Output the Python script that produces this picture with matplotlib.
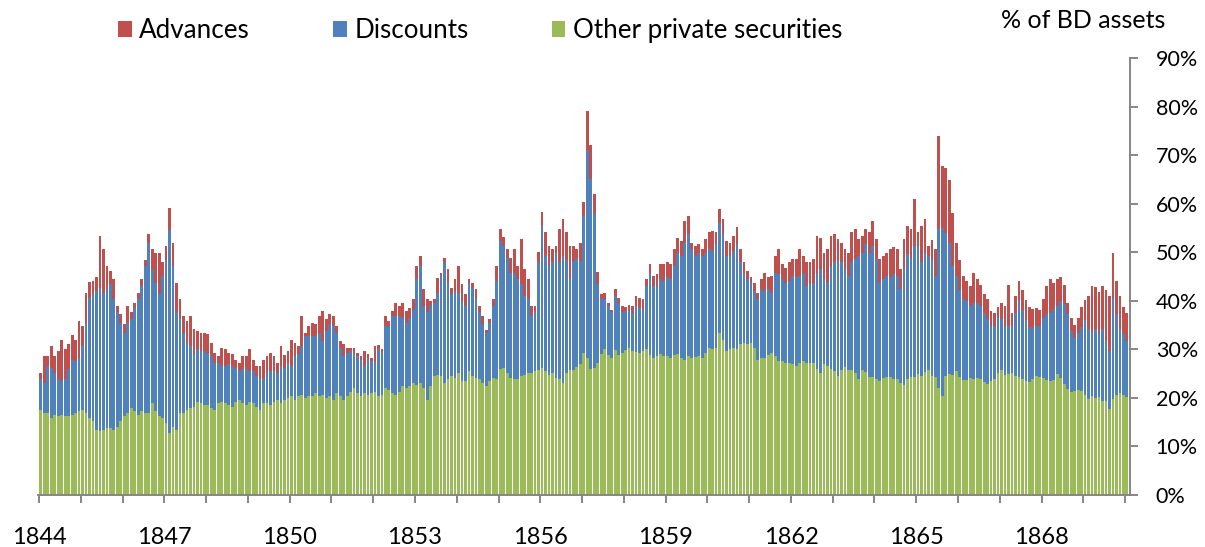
import matplotlib
matplotlib.use("Agg")
import matplotlib.pyplot as plt
import numpy as np
from matplotlib.patches import Patch

plt.rcParams['font.family'] = ['Lato', 'DejaVu Sans']

# ---------------- data (monthly, % of BD assets) ----------------
first_year = 1844
last_year = 1870
label_years = [1844, 1847, 1850, 1853, 1856, 1859, 1862, 1865, 1868]
y_ticks = [0, 10, 20, 30, 40, 50, 60, 70, 80, 90]
series_names = ['Advances', 'Discounts', 'Other private securities']

other_securities = [
    17.5, 16.9, 16.9, 15.9, 16.5, 16.2, 16.5, 16.2, 16.3, 16.5, 16.9, 17.2,  # 1844
    17.5, 16.9, 15.9, 15.2, 13.4, 13.1, 13.4, 13.8, 13.8, 13.4, 14.1, 15.2,  # 1845
    16.2, 16.9, 17.9, 17.2, 16.5, 17.2, 16.9, 16.9, 18.9, 17.2, 16.2, 15.9,  # 1846
    14.8, 12.7, 14.1, 13.4, 16.9, 16.9, 17.5, 17.9, 18.2, 19.2, 18.9, 18.5,  # 1847
    18.5, 17.9, 17.5, 18.9, 19.2, 18.9, 18.5, 18.2, 19.2, 19.6, 18.9, 18.5,  # 1848
    19.2, 18.9, 18.2, 17.5, 18.9, 18.9, 18.5, 19.2, 19.6, 18.9, 19.6, 19.9,  # 1849
    20.3, 19.6, 20.3, 20.6, 19.9, 20.3, 20.3, 21.0, 20.3, 20.6, 19.9, 20.3,  # 1850
    19.6, 21.0, 20.3, 19.6, 20.3, 21.3, 22.0, 21.1, 20.3, 21.0, 20.6, 21.0,  # 1851
    21.3, 20.3, 20.6, 22.0, 21.7, 21.0, 20.6, 21.3, 22.4, 22.0, 22.5, 23.1,  # 1852
    22.7, 23.1, 22.0, 19.6, 22.4, 24.5, 24.8, 24.5, 23.1, 23.8, 24.5, 24.1,  # 1853
    25.2, 23.4, 23.4, 25.5, 24.5, 24.1, 23.8, 23.1, 22.4, 23.4, 24.1, 23.8,  # 1854
    25.9, 26.2, 25.2, 24.1, 23.8, 23.8, 24.6, 24.8, 25.2, 25.2, 25.5, 25.8,  # 1855
    26.2, 25.5, 24.8, 25.2, 24.1, 23.8, 23.1, 25.2, 25.8, 25.8, 26.3, 26.9,  # 1856
    29.3, 28.3, 25.9, 26.2, 27.2, 29.0, 30.0, 28.9, 28.2, 29.9, 28.9, 29.3,  # 1857
    29.9, 30.3, 29.6, 29.4, 29.3, 29.6, 30.0, 28.9, 28.2, 28.6, 29.1, 28.7,  # 1858
    28.6, 28.2, 28.9, 29.1, 28.2, 27.9, 28.6, 28.2, 28.4, 28.6, 28.2, 29.3,  # 1859
    30.3, 30.0, 30.3, 33.4, 32.0, 29.6, 30.1, 30.3, 30.0, 31.0, 31.3, 31.0,  # 1860
    31.3, 30.3, 27.9, 28.2, 28.2, 28.9, 29.3, 28.6, 27.5, 27.5, 27.2, 27.2,  # 1861
    26.9, 26.5, 27.2, 27.5, 27.2, 27.2, 27.2, 25.9, 25.1, 26.9, 26.6, 26.0,  # 1862
    25.5, 24.6, 25.7, 26.4, 25.7, 25.8, 25.1, 23.9, 25.7, 25.4, 24.4, 24.4,  # 1863
    23.8, 23.4, 24.1, 24.4, 24.3, 23.8, 23.9, 23.1, 22.7, 23.9, 24.2, 24.4,  # 1864
    25.0, 24.6, 25.3, 25.8, 24.5, 24.2, 22.1, 20.4, 24.5, 24.9, 24.7, 25.5,  # 1865
    24.4, 23.7, 23.7, 24.0, 23.8, 24.1, 23.8, 23.3, 22.8, 23.4, 23.8, 25.2,  # 1866
    25.8, 24.7, 24.9, 25.2, 24.5, 24.2, 23.8, 23.4, 23.3, 23.8, 24.5, 24.4,  # 1867
    24.0, 23.6, 23.5, 23.7, 24.9, 24.0, 22.8, 21.9, 21.2, 21.4, 21.7, 21.5,  # 1868
    20.6, 19.7, 20.4, 19.9, 20.1, 19.4, 19.4, 17.8, 19.7, 20.6, 21.0, 20.6,  # 1869
    20.1,                                                                      # 1870
]

discounts = [
    6.3, 6.2, 9.7, 10.3, 8.7, 7.6, 7.0, 7.6, 9.6, 11.4, 10.7, 11.1,            # 1844
    13.2, 18.6, 24.7, 26.1, 28.6, 29.6, 28.3, 28.6, 29.6, 26.9, 23.5, 20.3,   # 1845
    17.2, 18.6, 18.3, 21.4, 23.8, 25.9, 30.3, 35.1, 27.6, 26.5, 25.1, 29.2,   # 1846
    33.7, 41.8, 33.1, 24.2, 19.6, 16.5, 13.9, 12.8, 10.8, 10.8, 10.7, 11.1,   # 1847
    10.8, 10.7, 9.7, 8.3, 7.4, 7.7, 8.4, 8.4, 7.0, 5.9, 7.0, 7.4,             # 1848
    6.3, 6.6, 6.3, 6.3, 4.9, 6.3, 7.0, 6.3, 5.6, 7.7, 6.6, 7.3,               # 1849
    6.3, 9.0, 8.7, 10.1, 12.8, 12.4, 12.4, 11.7, 13.1, 11.1, 13.9, 14.9,      # 1850
    15.2, 12.4, 10.0, 9.0, 9.0, 8.3, 7.3, 7.5, 7.6, 5.6, 7.7, 6.5,            # 1851
    5.9, 9.7, 8.7, 12.8, 13.1, 15.9, 16.3, 15.6, 14.1, 13.5, 14.0, 15.1,      # 1852
    21.7, 24.1, 16.9, 18.0, 16.8, 15.1, 16.9, 20.6, 24.8, 19.9, 16.8, 17.9,   # 1853
    16.5, 16.5, 15.5, 18.2, 18.2, 16.2, 13.8, 12.1, 11.0, 12.1, 14.8, 20.2,   # 1854
    26.5, 25.1, 23.7, 21.7, 22.0, 20.6, 18.8, 16.2, 15.1, 11.7, 12.1, 22.1,   # 1855
    29.3, 23.7, 22.1, 22.7, 25.8, 24.1, 26.1, 23.3, 18.6, 22.4, 22.6, 21.3,   # 1856
    28.2, 42.7, 39.1, 31.8, 16.3, 11.3, 10.3, 10.0, 9.4, 11.1, 10.7, 8.3,     # 1857
    8.0, 7.9, 7.9, 9.5, 9.3, 8.6, 13.0, 16.6, 14.8, 14.4, 15.3, 15.4,         # 1858
    16.2, 16.2, 18.3, 20.8, 21.0, 24.1, 25.1, 22.4, 20.8, 21.3, 21.0, 20.6,   # 1859
    20.3, 20.3, 21.4, 22.7, 21.7, 19.6, 19.1, 20.0, 21.7, 16.9, 14.2, 13.4,   # 1860
    12.4, 11.7, 12.4, 14.2, 13.8, 13.5, 12.4, 17.2, 18.0, 16.9, 16.5, 16.9,   # 1861
    18.2, 18.3, 17.9, 18.3, 15.8, 16.2, 16.5, 19.6, 21.4, 17.5, 17.1, 21.2,   # 1862
    22.4, 23.6, 22.2, 20.1, 19.4, 22.1, 23.5, 25.3, 24.2, 26.3, 25.5, 26.9,   # 1863
    24.8, 20.3, 20.3, 20.7, 20.5, 21.7, 21.2, 19.3, 23.8, 25.7, 24.7, 26.9,   # 1864
    26.3, 23.3, 24.6, 23.4, 24.0, 20.9, 32.6, 34.6, 29.5, 27.0, 22.4, 19.6,   # 1865
    17.9, 16.6, 16.2, 14.9, 15.7, 15.4, 15.1, 14.2, 13.5, 11.5, 11.0, 11.5,   # 1866
    10.4, 10.2, 9.9, 9.6, 13.0, 15.9, 14.3, 12.6, 11.4, 10.6, 10.4, 10.4,     # 1867
    12.5, 13.6, 14.0, 14.7, 14.0, 15.9, 16.5, 15.3, 12.6, 11.0, 11.6, 13.2,   # 1868
    15.4, 14.4, 13.0, 14.2, 13.3, 14.7, 12.3, 11.9, 20.9, 16.6, 13.1, 12.5,   # 1869
    11.6,                                                                      # 1870
]

advances = [
    1.4, 5.5, 2.0, 4.5, 3.4, 5.8, 8.5, 6.2, 5.1, 5.1, 4.4, 7.5,               # 1844
    4.1, 6.2, 3.2, 2.7, 3.0, 10.7, 8.9, 4.8, 2.8, 4.1, 1.3, 1.7,              # 1845
    1.8, 3.4, 1.4, 1.0, 1.4, 1.3, 1.3, 1.8, 4.1, 6.2, 8.6, 2.8,               # 1846
    2.8, 4.7, 4.8, 6.1, 3.8, 3.5, 4.5, 6.2, 5.1, 3.8, 3.8, 3.8,               # 1847
    3.8, 2.8, 2.1, 1.4, 3.7, 3.4, 2.4, 2.4, 1.7, 1.7, 2.7, 2.7,               # 1848
    4.5, 2.4, 2.1, 2.8, 4.1, 3.4, 3.8, 3.1, 2.0, 4.1, 2.7, 2.4,               # 1849
    5.4, 2.8, 1.7, 6.2, 0.7, 2.1, 2.8, 2.5, 3.5, 6.2, 2.4, 2.0,               # 1850
    2.1, 1.4, 1.4, 2.4, 1.0, 0.7, 1.0, 0.7, 0.7, 3.0, 0.8, 0.8,               # 1851
    3.5, 0.8, 0.8, 2.1, 1.1, 1.0, 2.7, 2.0, 3.1, 2.4, 2.1, 2.1,               # 1852
    2.8, 2.0, 3.5, 2.7, 0.8, 0.7, 3.0, 0.7, 1.0, 2.8, 1.4, 2.4,               # 1853
    5.5, 3.5, 2.4, 0.8, 1.0, 2.1, 1.3, 1.7, 0.6, 0.7, 1.4, 3.2,               # 1854
    2.4, 1.8, 1.7, 3.1, 4.8, 2.8, 9.3, 5.5, 4.1, 2.0, 1.3, 2.1,               # 1855
    2.8, 4.9, 4.4, 2.7, 1.4, 6.9, 7.7, 5.6, 6.9, 3.1, 1.7, 3.8,               # 1856
    2.8, 8.0, 7.0, 4.0, 2.5, 1.0, 1.4, 0.7, 0.6, 1.4, 1.0, 1.3,               # 1857
    0.8, 1.0, 1.4, 2.1, 2.0, 2.1, 1.4, 2.0, 2.1, 2.5, 3.1, 3.4,               # 1858
    3.1, 3.1, 3.4, 3.1, 3.2, 4.5, 3.8, 1.4, 2.1, 1.8, 1.4, 2.8,               # 1859
    3.5, 4.1, 2.4, 2.8, 3.1, 3.2, 2.8, 3.1, 3.4, 2.7, 2.4, 1.7,               # 1860
    1.1, 1.7, 1.4, 2.0, 3.8, 2.4, 3.4, 3.4, 5.1, 3.1, 3.1, 3.8,               # 1861
    3.5, 3.8, 5.5, 3.4, 4.9, 4.5, 4.9, 7.9, 6.5, 5.5, 6.9, 6.2,               # 1862
    5.8, 4.5, 4.1, 4.1, 4.8, 6.2, 6.2, 3.5, 3.5, 3.1, 4.2, 5.2,               # 1863
    4.1, 4.9, 4.8, 4.8, 5.8, 5.5, 5.5, 4.1, 6.2, 5.8, 5.9, 9.7,               # 1864
    2.8, 7.5, 6.9, 2.1, 4.1, 5.5, 19.3, 12.7, 13.3, 13.0, 11.0, 6.8,          # 1865
    6.2, 4.8, 4.1, 4.1, 6.3, 4.9, 4.4, 3.8, 4.0, 3.0, 2.7, 2.1,               # 1866
    3.3, 4.0, 8.5, 2.7, 3.5, 3.9, 4.1, 4.1, 4.1, 4.0, 3.7, 3.4,               # 1867
    3.8, 5.8, 6.9, 5.3, 5.5, 5.0, 4.0, 2.4, 2.7, 2.7, 3.2, 4.1,               # 1868
    4.1, 6.9, 9.6, 8.8, 8.4, 8.9, 10.5, 11.3, 9.3, 6.8, 6.9, 5.7,             # 1869
    5.8,                                                                       # 1870
]

# ---------------- style ----------------
RED = '#C0504D'
BLUE = '#4F81BD'
GREEN = '#9BBB59'
AXIS_GREY = '#868686'
FS_LEGEND = 18.7
FS_TITLE = 18
FS_X = 17
FS_Y = 15.5

other_arr = np.array(other_securities)
disc_arr = np.array(discounts)
adv_arr = np.array(advances)
n = len(other_arr)
x = np.arange(n) + 0.5  # month index (months since Jan 1844)

W, H = 1205, 547
fig = plt.figure(figsize=(W / 100, H / 100), dpi=100)
ax = fig.add_axes([38 / W, 1 - 495 / H, (1130 - 38) / W, (495 - 58) / H])

bw = 0.8
ax.bar(x, other_arr, bw, color=GREEN, linewidth=0)
ax.bar(x, disc_arr, bw, bottom=other_arr, color=BLUE, linewidth=0)
ax.bar(x, adv_arr, bw, bottom=other_arr + disc_arr, color=RED, linewidth=0)

ax.set_ylim(0, 90)
ax.set_xlim(-0.3, 313.4)

# spines
for s in ['top', 'left']:
    ax.spines[s].set_visible(False)
for s in ['right', 'bottom']:
    ax.spines[s].set_color(AXIS_GREY)
    ax.spines[s].set_linewidth(1.4)

# y axis on the right
ax.yaxis.tick_right()
ax.set_yticks(y_ticks)
ax.set_yticklabels([f'{v}%' for v in y_ticks])
ax.tick_params(axis='y', direction='out', length=6, width=1.4, color=AXIS_GREY,
               labelsize=FS_Y, pad=12.5, labelcolor='black')

# x axis: a tick at every year start, labels every third year
years = list(range(first_year, last_year + 1))
ax.set_xticks([12 * (yr - first_year) for yr in years])
ax.set_xticklabels([str(yr) if yr in label_years else '' for yr in years])
ax.tick_params(axis='x', direction='out', length=6, width=1.4, color=AXIS_GREY,
               labelsize=FS_X, pad=17, labelcolor='black')

# legend
handles = [Patch(facecolor=c, edgecolor='none') for c in (RED, BLUE, GREEN)]
fig.legend(handles, series_names, loc='upper left',
           bbox_to_anchor=(118 / W, 1 - 18 / H), ncol=3, frameon=False,
           fontsize=FS_LEGEND, handlelength=0.52, handleheight=0.55,
           handletextpad=0.3, columnspacing=3.2, borderaxespad=0, borderpad=0)

fig.text(1165 / W, 1 - 20 / H, '% of BD assets', ha='right', va='center',
         fontsize=FS_TITLE)

fig.savefig('out.png', dpi=100)
